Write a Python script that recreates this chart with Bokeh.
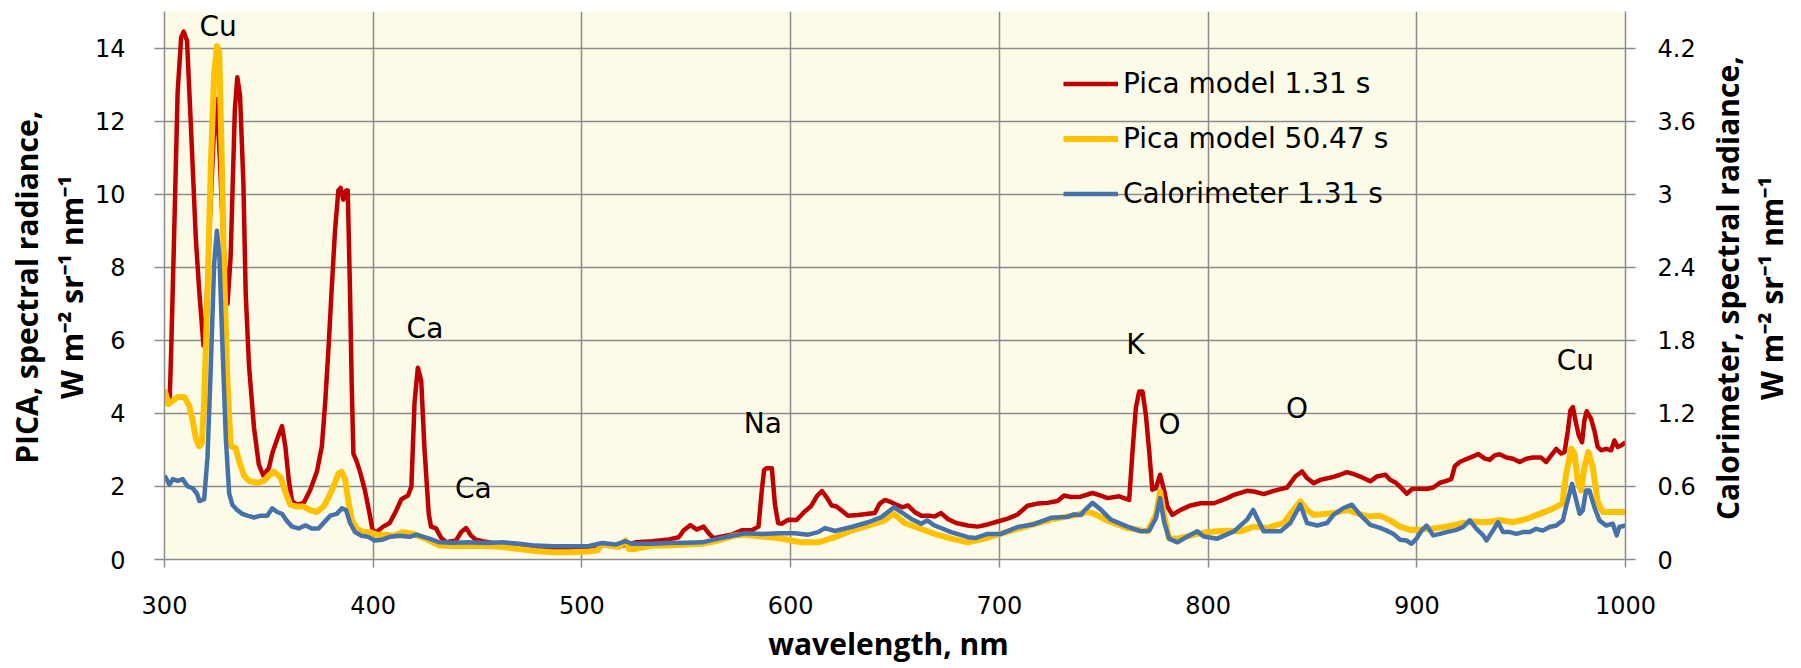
from math import pi
from bokeh.plotting import figure
from bokeh.layouts import row, column
from bokeh.models import (Range1d, LinearAxis, FixedTicker, Legend, LegendItem,
                          ColumnDataSource, Label)
from bokeh.core.properties import value
from bokeh.embed import file_html
from bokeh.resources import INLINE

# ---------------- data ----------------
pica131_wl = [300.0, 301.5, 302.5, 303.2, 304.8, 306.3, 308.0, 309.2, 310.8, 312.7, 315.0, 316.7, 318.7,
              319.8, 321.5, 323.5, 325.0, 326.5, 328.3, 330.2, 331.7, 333.7, 334.9, 336.2, 337.8, 338.9,
              340.5, 342.9, 345.2, 347.3, 350.0, 351.6, 354.0, 356.3, 357.9, 359.5, 361.1, 363.5, 366.7,
              369.8, 373.0, 375.4, 377.0, 378.6, 380.2, 381.7, 383.3, 384.4, 385.7, 387.0, 387.8, 388.9,
              389.7, 390.5, 392.0, 393.7, 396.0, 398.1, 399.7, 401.6, 404.8, 407.9, 411.1, 413.5, 416.7,
              418.3, 419.8, 421.4, 423.0, 424.6, 426.6, 427.7, 430.1, 432.5, 434.9, 439.7, 442.1, 444.5,
              446.8, 449.2, 452.4, 460.0, 470.0, 480.0, 490.0, 500.0, 510.0, 518.0, 525.7, 533.6, 541.6,
              546.4, 548.8, 551.9, 555.1, 558.3, 560.7, 563.1, 567.1, 571.8, 576.6, 581.4, 584.6, 586.2,
              587.3, 588.5, 591.0, 592.5, 594.0, 595.7, 598.9, 602.9, 606.5, 609.8, 612.7, 615.0, 617.2,
              619.6, 622.0, 624.4, 627.5, 632.3, 637.1, 640.3, 642.7, 645.1, 648.2, 650.6, 653.8, 656.2,
              659.4, 662.6, 666.5, 669.0, 672.1, 675.3, 679.3, 684.9, 689.6, 694.4, 699.2, 704.0, 708.7,
              713.5, 718.3, 723.1, 727.9, 731.0, 734.2, 739.0, 744.6, 748.6, 751.9, 757.4, 762.2, 763.8,
              765.4, 767.0, 768.6, 770.2, 771.8, 773.3, 775.0, 777.0, 778.9, 780.5, 782.9, 786.9, 791.7,
              796.4, 802.8, 809.2, 812.4, 818.7, 821.9, 826.7, 831.5, 837.8, 841.8, 845.0, 847.4, 850.6,
              853.8, 859.3, 863.3, 866.5, 869.7, 872.9, 877.7, 880.8, 885.0, 887.2, 890.0, 892.8, 895.2,
              897.8, 901.5, 904.7, 907.9, 911.1, 914.2, 916.5, 918.3, 920.6, 923.8, 927.0, 929.4, 932.6,
              935.0, 937.3, 939.7, 942.9, 946.1, 949.3, 952.5, 955.6, 959.6, 962.0, 964.4, 966.8, 969.2,
              970.8, 972.4, 973.6, 974.8, 976.0, 977.6, 979.2, 980.3, 981.4, 983.5, 985.1, 986.7, 988.3,
              990.7, 993.1, 994.7, 996.3, 997.9, 1000.0]
pica131_val = [4.6, 4.3, 4.4, 5.7, 9.3, 12.8, 14.3, 14.45, 14.2, 11.8, 8.8, 7.3, 5.85,
               6.5, 9.0, 11.5, 12.6, 11.0, 8.6, 7.0, 8.3, 12.3, 13.2, 12.7, 10.3, 7.3,
               5.3, 3.6, 2.6, 2.3, 2.5, 2.9, 3.3, 3.65, 3.1, 2.2, 1.6, 1.5, 1.55,
               1.9, 2.4, 3.1, 4.3, 5.8, 7.5, 9.0, 10.1, 10.17, 9.85, 10.1, 10.1, 7.3,
               4.8, 2.9, 2.7, 2.4, 1.9, 1.3, 0.8, 0.75, 0.9, 1.0, 1.35, 1.65, 1.75,
               2.0, 4.3, 5.25, 4.9, 3.0, 1.25, 0.9, 0.85, 0.6, 0.47, 0.52, 0.75, 0.86,
               0.66, 0.54, 0.5, 0.42, 0.36, 0.3, 0.3, 0.32, 0.4, 0.36, 0.47, 0.5, 0.55,
               0.61, 0.8, 0.94, 0.82, 0.9, 0.72, 0.58, 0.63, 0.68, 0.8, 0.8, 0.9, 1.9,
               2.45, 2.5, 2.5, 1.5, 1.0, 0.98, 1.09, 1.08, 1.3, 1.46, 1.74, 1.87, 1.71,
               1.48, 1.45, 1.34, 1.2, 1.22, 1.25, 1.27, 1.53, 1.63, 1.57, 1.5, 1.43, 1.48,
               1.3, 1.2, 1.2, 1.18, 1.27, 1.11, 1.0, 0.93, 0.9, 0.96, 1.04, 1.12, 1.23,
               1.47, 1.53, 1.55, 1.6, 1.75, 1.71, 1.72, 1.82, 1.75, 1.68, 1.73, 1.63, 2.96,
               4.15, 4.6, 4.6, 3.96, 2.96, 1.91, 1.95, 2.32, 1.91, 1.45, 1.22, 1.36, 1.48,
               1.54, 1.54, 1.68, 1.77, 1.88, 1.86, 1.79, 1.88, 1.97, 2.27, 2.41, 2.23, 2.09,
               2.18, 2.25, 2.32, 2.39, 2.34, 2.27, 2.14, 2.27, 2.32, 2.18, 2.1, 1.95, 1.8,
               1.93, 1.94, 1.93, 1.97, 2.1, 2.15, 2.2, 2.56, 2.67, 2.75, 2.82, 2.89, 2.76,
               2.73, 2.85, 2.88, 2.79, 2.76, 2.67, 2.76, 2.79, 2.79, 2.67, 2.85, 3.03, 2.9,
               2.94, 3.53, 4.08, 4.17, 3.81, 3.4, 3.21, 3.81, 4.06, 3.85, 3.53, 3.08, 2.99,
               3.03, 2.99, 3.26, 3.08, 3.12, 3.21]

pica5047_wl = [300.0, 301.9, 304.0, 306.3, 309.5, 311.9, 313.5, 315.1, 316.7, 317.9, 319.0, 320.6, 322.2,
               323.8, 325.1, 326.2, 327.3, 328.6, 330.2, 331.7, 334.1, 335.7, 338.1, 340.5, 344.4, 347.6,
               350.0, 352.4, 355.6, 357.9, 360.3, 363.5, 366.7, 369.8, 373.0, 376.2, 378.6, 381.0, 383.3,
               384.9, 386.5, 388.1, 389.7, 392.1, 395.2, 398.4, 401.6, 406.3, 409.5, 414.3, 419.0, 423.8,
               426.9, 431.7, 438.1, 446.1, 454.0, 462.0, 469.9, 477.9, 485.9, 493.8, 503.4, 507.4, 509.7,
               512.9, 517.7, 520.9, 522.5, 525.7, 533.6, 541.6, 549.6, 557.5, 565.5, 573.4, 578.2, 586.2,
               594.1, 600.5, 605.2, 613.2, 621.2, 629.1, 637.1, 645.1, 649.0, 651.4, 654.6, 661.0, 669.0,
               676.9, 684.9, 692.8, 700.8, 708.7, 716.8, 724.7, 732.7, 737.0, 742.2, 744.6, 748.6, 751.9,
               761.4, 771.0, 775.0, 777.0, 778.9, 781.3, 785.3, 793.3, 799.6, 809.2, 815.5, 821.9, 828.3,
               836.2, 841.0, 844.2, 847.4, 850.6, 860.1, 866.5, 871.3, 876.1, 882.4, 887.2, 892.0, 896.7,
               901.5, 907.9, 914.2, 920.6, 927.0, 933.4, 939.7, 946.1, 952.5, 958.8, 965.2, 969.7, 971.6,
               974.0, 975.6, 977.1, 978.7, 980.3, 982.2, 984.3, 986.7, 989.1, 993.9, 1000.0]
pica5047_val = [4.65, 4.25, 4.35, 4.45, 4.45, 4.2, 3.8, 3.3, 3.1, 3.2, 4.3, 7.3, 10.8,
                13.3, 14.05, 13.9, 11.3, 7.8, 4.8, 3.1, 3.05, 2.7, 2.3, 2.15, 2.1, 2.15,
                2.3, 2.4, 2.25, 1.85, 1.5, 1.45, 1.45, 1.35, 1.3, 1.45, 1.7, 2.0, 2.35,
                2.4, 2.2, 1.6, 1.1, 0.85, 0.75, 0.75, 0.68, 0.68, 0.65, 0.75, 0.7, 0.6,
                0.52, 0.38, 0.37, 0.37, 0.37, 0.34, 0.29, 0.23, 0.2, 0.2, 0.22, 0.25, 0.43,
                0.38, 0.34, 0.52, 0.29, 0.29, 0.38, 0.38, 0.41, 0.43, 0.52, 0.66, 0.68, 0.63,
                0.59, 0.52, 0.47, 0.47, 0.61, 0.79, 0.93, 1.07, 1.25, 1.16, 1.0, 0.87, 0.7,
                0.57, 0.47, 0.57, 0.71, 0.84, 0.97, 1.09, 1.18, 1.22, 1.3, 1.27, 1.16, 1.06,
                0.86, 0.77, 1.22, 1.86, 1.22, 0.58, 0.57, 0.68, 0.75, 0.79, 0.77, 0.9, 0.86,
                1.0, 1.36, 1.59, 1.36, 1.22, 1.27, 1.36, 1.27, 1.18, 1.2, 1.07, 0.9, 0.81,
                0.82, 0.85, 0.9, 0.98, 1.04, 1.02, 1.08, 1.02, 1.11, 1.25, 1.39, 1.53, 2.35,
                3.03, 2.9, 2.16, 1.89, 2.53, 2.94, 2.53, 1.57, 1.3, 1.3, 1.3]

calor_wl = [300.0, 302.4, 304.0, 306.3, 308.7, 311.1, 313.5, 315.6, 316.7, 319.0, 320.6, 322.2, 323.8,
            325.1, 326.3, 327.8, 329.4, 331.0, 332.5, 334.9, 337.3, 339.7, 342.9, 346.0, 349.2, 351.6,
            354.0, 356.3, 358.7, 361.1, 364.3, 367.5, 370.6, 373.8, 377.0, 379.4, 382.5, 385.0, 387.0,
            388.9, 391.3, 394.4, 397.6, 400.8, 404.8, 407.9, 412.7, 417.5, 420.6, 426.9, 431.7, 438.1,
            446.1, 454.0, 462.0, 469.9, 477.9, 485.9, 493.8, 503.4, 509.7, 516.1, 520.9, 524.1, 533.6,
            541.6, 549.6, 557.5, 565.5, 573.4, 578.2, 586.2, 594.1, 602.1, 608.4, 613.2, 616.4, 621.2,
            629.1, 637.1, 643.5, 646.6, 649.5, 653.0, 657.8, 662.6, 665.4, 669.0, 676.9, 684.9, 688.8,
            694.4, 700.8, 708.7, 716.7, 724.7, 732.7, 735.8, 739.1, 740.6, 744.6, 748.6, 753.4, 761.4,
            767.8, 771.8, 775.0, 777.0, 778.9, 781.3, 785.3, 790.1, 794.8, 798.0, 804.4, 812.4, 818.7,
            821.6, 824.3, 826.7, 834.7, 839.4, 844.2, 847.4, 852.2, 857.0, 860.1, 864.9, 868.9, 872.9,
            877.7, 882.4, 885.6, 888.8, 892.0, 895.1, 897.5, 899.9, 902.3, 904.7, 907.9, 911.1, 914.2,
            919.0, 922.2, 925.4, 928.6, 931.8, 933.4, 936.5, 938.9, 941.3, 944.5, 947.7, 950.9, 954.1,
            957.2, 960.4, 963.6, 966.8, 970.0, 971.9, 974.4, 976.4, 978.0, 979.5, 981.1, 982.7, 985.1,
            987.5, 990.7, 993.9, 995.8, 997.0, 1000.0]
calor_val = [0.69, 0.615, 0.66, 0.645, 0.66, 0.6, 0.585, 0.54, 0.48, 0.495, 0.84, 1.59, 2.43,
             2.7, 2.49, 1.74, 0.99, 0.54, 0.45, 0.405, 0.375, 0.36, 0.345, 0.36, 0.36, 0.42,
             0.39, 0.375, 0.315, 0.27, 0.255, 0.28, 0.255, 0.255, 0.315, 0.36, 0.375, 0.42, 0.405,
             0.3, 0.225, 0.195, 0.186, 0.156, 0.165, 0.186, 0.195, 0.186, 0.204, 0.171, 0.141, 0.138,
             0.141, 0.135, 0.141, 0.129, 0.114, 0.108, 0.108, 0.111, 0.135, 0.123, 0.15, 0.129, 0.129,
             0.135, 0.138, 0.141, 0.171, 0.198, 0.216, 0.21, 0.216, 0.216, 0.204, 0.225, 0.258, 0.234,
             0.267, 0.306, 0.348, 0.39, 0.429, 0.39, 0.333, 0.294, 0.321, 0.279, 0.225, 0.183, 0.177,
             0.21, 0.21, 0.267, 0.29, 0.342, 0.35, 0.37, 0.366, 0.4, 0.465, 0.41, 0.327, 0.27,
             0.231, 0.237, 0.339, 0.504, 0.312, 0.171, 0.141, 0.189, 0.231, 0.189, 0.171, 0.231, 0.327,
             0.408, 0.312, 0.231, 0.231, 0.3, 0.45, 0.3, 0.279, 0.3, 0.366, 0.423, 0.45, 0.366,
             0.285, 0.26, 0.237, 0.21, 0.162, 0.156, 0.129, 0.171, 0.237, 0.279, 0.198, 0.21, 0.225,
             0.243, 0.267, 0.321, 0.252, 0.198, 0.156, 0.237, 0.306, 0.225, 0.225, 0.21, 0.225, 0.225,
             0.252, 0.237, 0.267, 0.279, 0.321, 0.459, 0.621, 0.486, 0.375, 0.402, 0.567, 0.567, 0.429,
             0.321, 0.279, 0.294, 0.198, 0.267, 0.279]

series_names = ["Pica model 1.31 s", "Pica model 50.47 s", "Calorimeter 1.31 s"]

# element annotations (text, wavelength, left-axis value)
elem_text = ["Cu", "Ca", "Ca", "Na", "K", "O", "O", "Cu"]
elem_wl = [325.7, 424.8, 448.0, 586.7, 765.2, 781.5, 842.6, 976.0]
elem_val = [14.6, 6.33, 1.94, 3.72, 5.88, 3.69, 4.12, 5.45]

x_ticks = [300, 400, 500, 600, 700, 800, 900, 1000]
left_ticks = [0, 2, 4, 6, 8, 10, 12, 14]
right_ticks = [0, 0.6, 1.2, 1.8, 2.4, 3.0, 3.6, 4.2]
right_tick_labels = ["0", "0.6", "1.2", "1.8", "2.4", "3", "3.6", "4.2"]

x_title = "wavelength, nm"
left_title = ["PICA, spectral radiance,", "W m\u207b\u00b2 sr\u207b\u00b9 nm\u207b\u00b9"]
right_title = ["Calorimeter, spectral radiance,", "W m\u207b\u00b2 sr\u207b\u00b9 nm\u207b\u00b9"]

# ---------------- styles / layout ----------------
GRID = "#8C8C8C"
RED = "#C00000"
YELLOW = "#FFC000"
BLUE = "#4672AC"
BG = "#FBFBE8"
TICK_FONT = "DejaVu Sans"
TITLE_FONT = "Open Sans"
TITLE_SIZE = "30px"

LEFT_W, MAIN_W, RIGHT_W = 91, 1607, 95
ROW_H, BOTTOM_H = 620, 44
ROT_SHIFT = 27   # compensation for rotated-label placement

p = figure(width=MAIN_W, height=ROW_H, x_range=Range1d(300, 1000), y_range=Range1d(0, 15),
           output_backend="svg", toolbar_location=None,
           min_border_left=70, min_border_right=72, min_border_top=11, min_border_bottom=61,
           background_fill_color=BG, border_fill_color="white", outline_line_color=None)
p.extra_y_ranges = {"cal": Range1d(0, 4.5)}

right_axis = LinearAxis(y_range_name="cal", ticker=FixedTicker(ticks=right_ticks),
                        major_label_overrides={t: s for t, s in zip(right_ticks, right_tick_labels)})
p.add_layout(right_axis, "right")

p.xaxis.ticker = FixedTicker(ticks=x_ticks)
p.yaxis[0].ticker = FixedTicker(ticks=left_ticks)
p.xgrid.ticker = FixedTicker(ticks=x_ticks)
p.ygrid.ticker = FixedTicker(ticks=left_ticks)
for g in (p.xgrid, p.ygrid):
    g.grid_line_color = GRID
    g.grid_line_width = 1.5

for ax in p.xaxis + p.yaxis:
    ax.axis_line_color = GRID
    ax.axis_line_width = 1.5
    ax.major_tick_line_color = GRID
    ax.major_tick_line_width = 1.5
    ax.major_tick_in = 0
    ax.minor_tick_line_color = None
    ax.major_label_text_font = TICK_FONT
    ax.major_label_text_font_size = "24px"
    ax.major_label_text_color = "black"

p.xaxis.major_tick_out = 8
p.xaxis.major_label_standoff = 28
p.yaxis[0].major_tick_out = 10
p.yaxis[0].major_label_standoff = 29
right_axis.major_tick_out = 10
right_axis.major_label_standoff = 22

r1 = p.line(pica131_wl, pica131_val, line_color=RED, line_width=4.5, line_join="round")
r2 = p.line(pica5047_wl, pica5047_val, line_color=YELLOW, line_width=6, line_join="round")
r3 = p.line(calor_wl, calor_val, line_color=BLUE, line_width=4.5, line_join="round",
            y_range_name="cal")

src = ColumnDataSource(dict(x=elem_wl, y=elem_val, t=elem_text))
p.text(x="x", y="y", text="t", source=src, text_align="center", text_baseline="middle",
       text_font=value(TICK_FONT), text_font_size=value("28px"), text_color="black")

legend = Legend(items=[LegendItem(label=series_names[0], renderers=[r1]),
                       LegendItem(label=series_names[1], renderers=[r2]),
                       LegendItem(label=series_names[2], renderers=[r3])],
                location=(899, 338), orientation="vertical",
                border_line_color=None, background_fill_alpha=0,
                padding=0, margin=0, spacing=0,
                glyph_width=55, glyph_height=55, label_height=55, label_standoff=5,
                label_text_font=TICK_FONT, label_text_font_size="28px",
                label_text_baseline="middle", label_text_color="black")
p.add_layout(legend)


# ---- title panels (axis titles as text, rendered in plain side panels) ----
def panel(w, h):
    f = figure(width=w, height=h, x_range=Range1d(0, w), y_range=Range1d(0, h),
               x_axis_location=None, y_axis_location=None, toolbar_location=None,
               output_backend="svg", min_border=0, outline_line_color=None,
               background_fill_color="white", border_fill_color="white")
    for g in f.grid:
        g.visible = False
    return f


def title(f, text, x, y, angle):
    f.add_layout(Label(x=x, y=y, text=text, angle=angle, text_align="center",
                       text_baseline="middle", text_font=TITLE_FONT, text_font_style="bold",
                       text_font_size=TITLE_SIZE, text_color="black"))


left_panel = panel(LEFT_W, ROW_H)
title(left_panel, left_title[0], 26, ROW_H - 285 - ROT_SHIFT, pi / 2)
title(left_panel, left_title[1], 71, ROW_H - 285 - ROT_SHIFT, pi / 2)

right_start = LEFT_W + MAIN_W
right_panel = panel(RIGHT_W, ROW_H)
title(right_panel, right_title[0], 1727 - right_start, ROW_H - 286 - ROT_SHIFT, pi / 2)
title(right_panel, right_title[1], 1771 - right_start, ROW_H - 286 - ROT_SHIFT, pi / 2)

bottom_panel = panel(LEFT_W + MAIN_W + RIGHT_W, BOTTOM_H)
title(bottom_panel, x_title, 888, 21, 0)

layout = column(row(left_panel, p, right_panel), bottom_panel)

open("out.html", "w").write(file_html(layout, INLINE))
